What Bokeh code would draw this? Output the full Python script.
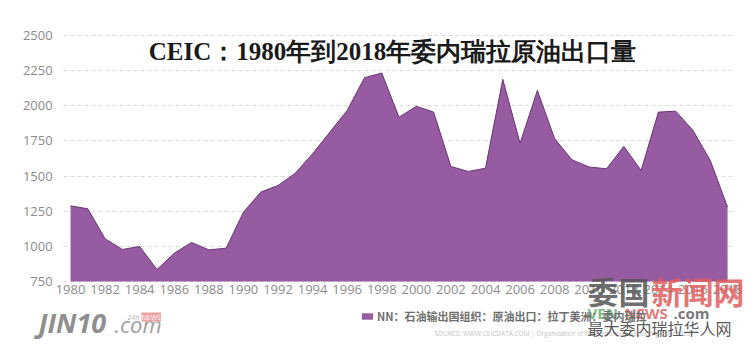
from bokeh.plotting import figure
from bokeh.models import (ColumnDataSource, Label, Legend, LegendItem, FixedTicker, Range1d)
from bokeh.embed import file_html
from bokeh.resources import INLINE

# ---- data ----
years = list(range(1980, 2019))
exports = [1288, 1267, 1054, 978, 999, 835, 951, 1028, 975, 987,
           1243, 1386, 1433, 1520, 1659, 1813, 1967, 2200, 2233, 1919,
           1996, 1955, 1568, 1533, 1556, 2188, 1734, 2109, 1766, 1616,
           1564, 1552, 1711, 1540, 1955, 1962, 1825, 1611, 1279]
x_ticks = list(range(1980, 2019, 2))
y_ticks = [750, 1000, 1250, 1500, 1750, 2000, 2250, 2500]
baseline = 750

title_text = "CEIC：1980年到2018年委内瑞拉原油出口量"
legend_text = "NN：石油输出国组织：原油出口：拉丁美洲：委内瑞拉"
source_text = "SOURCE: WWW.CEICDATA.COM | Organization of the Petroleum Exporting Countries"

FILL = "#965ba1"
EDGE = "#6a3574"
GRAY = "#8c8c8c"
SANS = "Open Sans"
CJK = "Noto Sans CJK SC"

W, H = 753, 344
src = ColumnDataSource(dict(x=years, y=exports, base=[baseline] * len(years)))

# The frame fills the whole canvas; axes are pinned inside it with fixed_location.
p = figure(width=W, height=H, output_backend="svg", toolbar_location=None,
           x_range=Range1d(1975.95, 2019.5), y_range=Range1d(301.8, 2749.0),
           min_border=0, min_border_left=0, min_border_right=0,
           min_border_top=0, min_border_bottom=0)
p.outline_line_color = None
p.background_fill_color = "white"
p.border_fill_color = "white"

area = p.varea(x="x", y1="base", y2="y", source=src, fill_color=FILL, fill_alpha=1.0)
p.line(x="x", y="y", source=src, line_color=EDGE, line_width=1)

p.xaxis.ticker = FixedTicker(ticks=x_ticks)
p.yaxis.ticker = FixedTicker(ticks=y_ticks)
p.xaxis.fixed_location = baseline
p.yaxis.fixed_location = 1979.6
for ax in (p.xaxis[0], p.yaxis[0]):
    ax.axis_line_color = None
    ax.major_tick_line_color = None
    ax.minor_tick_line_color = None
    ax.major_label_text_color = GRAY
    ax.major_label_text_font = SANS
    ax.major_label_text_font_size = "13px"
p.xaxis.major_label_standoff = -2
p.yaxis.major_label_standoff = 5

p.xgrid.grid_line_color = None
p.ygrid.grid_line_color = "#dcdcdc"
p.ygrid.grid_line_dash = "4 3"
p.ygrid.grid_line_width = 1
p.ygrid.cross_bounds = (1979.6, 2018.35)

def lab(x, y_top, text, **kw):
    """Label placed by its vertical centre, measured from the top of the canvas."""
    p.add_layout(Label(x=x, y=H - y_top, x_units="screen", y_units="screen",
                       text=text, text_baseline="middle", **kw))

# title inside the plot
lab(392, 51, title_text, text_align="center", text_font="Liberation Serif",
    text_font_style="bold", text_font_size="25px", text_color="#1a1a1a")

# legend below the chart
legend = Legend(items=[LegendItem(label=legend_text, renderers=[area])],
                location=(360, 20), orientation="horizontal",
                background_fill_alpha=0, border_line_color=None,
                padding=0, margin=0, spacing=0, glyph_width=14, glyph_height=8,
                label_standoff=3, label_height=12,
                label_text_font=CJK, label_text_font_size="11px",
                label_text_color="#6e6e6e", label_text_font_style="bold")
p.add_layout(legend, "center")

lab(434, 332.5, source_text, text_font=SANS, text_font_size="6.5px", text_color="#c4c4c4")

# JIN10 logo text
lab(38, 322, "JIN10", text_font=SANS, text_font_style="bold italic",
    text_font_size="27px", text_color="#8f8f8f")
lab(114, 323, ".com", text_font=SANS, text_font_style="italic",
    text_font_size="22px", text_color="#a0a0a0")
lab(127, 316.5, "24h", text_font=SANS, text_font_style="italic",
    text_font_size="7px", text_color="#b0b0b0")
lab(141, 316.5, "NEWS", text_font=SANS, text_font_size="7px",
    text_color="#ffffff", background_fill_color="#f0a0a0")

# VENNEWS watermark
lab(587, 290, "委国", text_font=CJK, text_font_style="bold",
    text_font_size="31px", text_color="#555555", text_alpha=0.85)
lab(651, 290, "新闻网", text_font=CJK, text_font_style="bold",
    text_font_size="31px", text_color="#e25c5c", text_alpha=0.85)
lab(587, 312, "VEN", text_font=SANS, text_font_style="bold",
    text_font_size="15px", text_color="#6db36d", text_alpha=0.9)
lab(624, 312, "NEWS", text_font=SANS, text_font_style="bold",
    text_font_size="15px", text_color="#e26a6a", text_alpha=0.9)
lab(673, 312, ".com", text_font=SANS, text_font_style="bold",
    text_font_size="15px", text_color="#666666", text_alpha=0.9)
lab(587, 327.5, "最大委内瑞拉华人网", text_font=CJK, text_font_size="16px",
    text_color="#444444", text_alpha=0.9)

open("out.html", "w").write(file_html(p, INLINE))
